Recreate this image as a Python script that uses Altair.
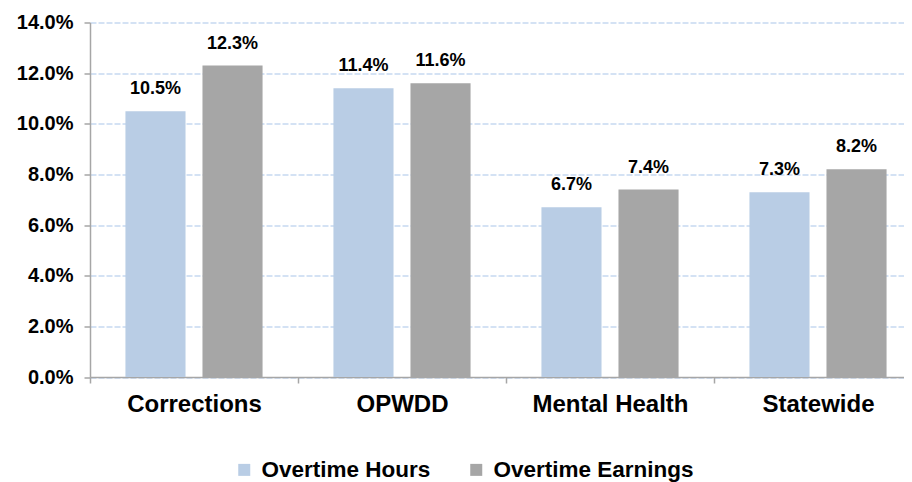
import altair as alt
import pandas as pd

categories = ["Corrections", "OPWDD", "Mental Health", "Statewide"]
series = ["Overtime Hours", "Overtime Earnings"]
hours = [10.5, 11.4, 6.7, 7.3]
earnings = [12.3, 11.6, 7.4, 8.2]
colors = ["#b9cde5", "#a6a6a6"]
y_ticks = [0, 0.02, 0.04, 0.06, 0.08, 0.10, 0.12, 0.14]

rows = []
for i, c in enumerate(categories):
    rows.append({"cat": c, "series": series[0], "value": hours[i] / 100})
    rows.append({"cat": c, "series": series[1], "value": earnings[i] / 100})
df = pd.DataFrame(rows)

font = "Liberation Sans"
axis_gray = "#a6a6a6"

x = alt.X(
    "cat:N", sort=categories,
    scale=alt.Scale(paddingInner=0, paddingOuter=0),
    axis=alt.Axis(title=None, labelAngle=0, tickBand="extent", labelFontSize=24,
                  labelFont=font, labelFontWeight="bold", labelColor="black",
                  labelPadding=9, tickSize=6, domainColor=axis_gray,
                  tickColor=axis_gray, domainWidth=1.5, tickWidth=1.5, grid=False),
)
xo = alt.XOffset("series:N", sort=series,
                 scale=alt.Scale(paddingInner=0.22, paddingOuter=0.46))
y = alt.Y(
    "value:Q",
    scale=alt.Scale(domain=[0, 0.14], nice=False),
    axis=alt.Axis(title=None, values=y_ticks, format=".1%", labelFontSize=20,
                  labelFont=font, labelFontWeight="bold", labelColor="black",
                  labelPadding=11, tickSize=6, domainColor=axis_gray,
                  tickColor=axis_gray, domainWidth=1.5, tickWidth=1.5,
                  grid=True, gridColor="#c6d9f1", gridDash=[6, 2], gridWidth=1.5),
)
color = alt.Color(
    "series:N", sort=series,
    scale=alt.Scale(domain=series, range=colors),
    legend=alt.Legend(title=None, orient="none", legendX=143, legendY=436,
                      direction="horizontal", symbolType="square", symbolSize=144,
                      symbolStrokeWidth=0, labelFontSize=22.5, labelFont=font,
                      labelFontWeight="bold", labelColor="black", labelOffset=6,
                      labelLimit=0, columnPadding=34),
)

bars = alt.Chart(df).mark_bar().encode(x=x, xOffset=xo, y=y, color=color)
labels = alt.Chart(df).mark_text(
    font=font, fontSize=18, fontWeight="bold", color="black", baseline="middle", dy=-22
).encode(x=x, xOffset=xo, y=y, text=alt.Text("value:Q", format=".1%"))

chart = (
    alt.layer(bars, labels)
    .properties(width=832, height=354.5, autosize=alt.AutoSizeParams(type="none"),
                padding={"left": 82, "top": 14.5, "right": -18, "bottom": 105})
    .configure_view(stroke=None)
)
chart.save("out.html", embed_options={"renderer": "svg", "actions": False})
